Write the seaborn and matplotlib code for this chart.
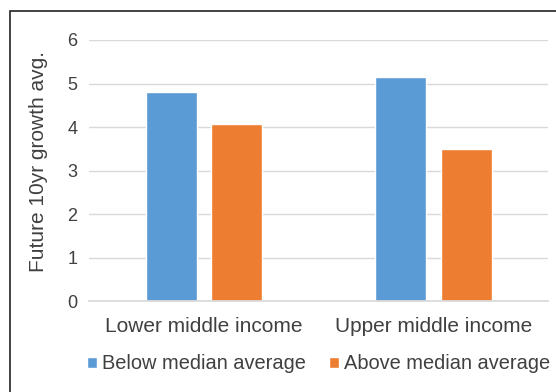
import pandas as pd
import matplotlib.pyplot as plt
import seaborn as sns
from matplotlib.patches import Rectangle

# --- Data ---
categories = ["Lower middle income", "Upper middle income"]
series = ["Below median average", "Above median average"]
below_median = [4.8, 5.16]
above_median = [4.07, 3.49]
colors = ["#5b9bd5", "#ed7d31"]

df = pd.DataFrame({
    "income": categories * 2,
    "group": [series[0]] * 2 + [series[1]] * 2,
    "value": below_median + above_median,
})

sns.set_theme(style="white")
plt.rcParams["font.family"] = ["Liberation Sans", "DejaVu Sans"]
text_col = "#404040"

fig = plt.figure(figsize=(5.56, 3.92), dpi=100)
ax = fig.add_axes([0.160, 0.231, 0.826, 0.667])

sns.barplot(data=df, x="income", y="value", hue="group", palette=colors,
            width=0.57, gap=0.22, ax=ax, saturation=1, legend=True)

ax.set_ylim(0, 6)
ax.set_xlim(-0.5, 1.5)
ax.set_yticks(range(0, 7))
ax.yaxis.grid(True, color="#d9d9d9", linewidth=1)
ax.set_axisbelow(True)
for s in ["top", "right", "left"]:
    ax.spines[s].set_visible(False)
ax.spines["bottom"].set_color("#d9d9d9")
ax.tick_params(axis="y", length=0, pad=8.5, labelsize=13, labelcolor=text_col)
ax.tick_params(axis="x", length=0, pad=11, labelsize=15, labelcolor=text_col)
ax.set_xlabel("")
ax.set_ylabel("Future 10yr growth avg.", fontsize=15, color=text_col)
ax.yaxis.set_label_coords(-0.089, 0.536)

ax.legend(loc="center", bbox_to_anchor=(0.5, -0.239), ncol=2, frameon=False,
          fontsize=14.4, labelcolor=text_col, handlelength=0.5, handleheight=0.5,
          handletextpad=0.25, columnspacing=1.15)

# outer frame around the chart
fig.patches.append(Rectangle((9.5 / 556, -0.02), 1.0, 1 - 11 / 392 + 0.02,
                             transform=fig.transFigure, fill=False,
                             edgecolor="#222222", linewidth=1.2))

fig.savefig("out.png", dpi=100)
